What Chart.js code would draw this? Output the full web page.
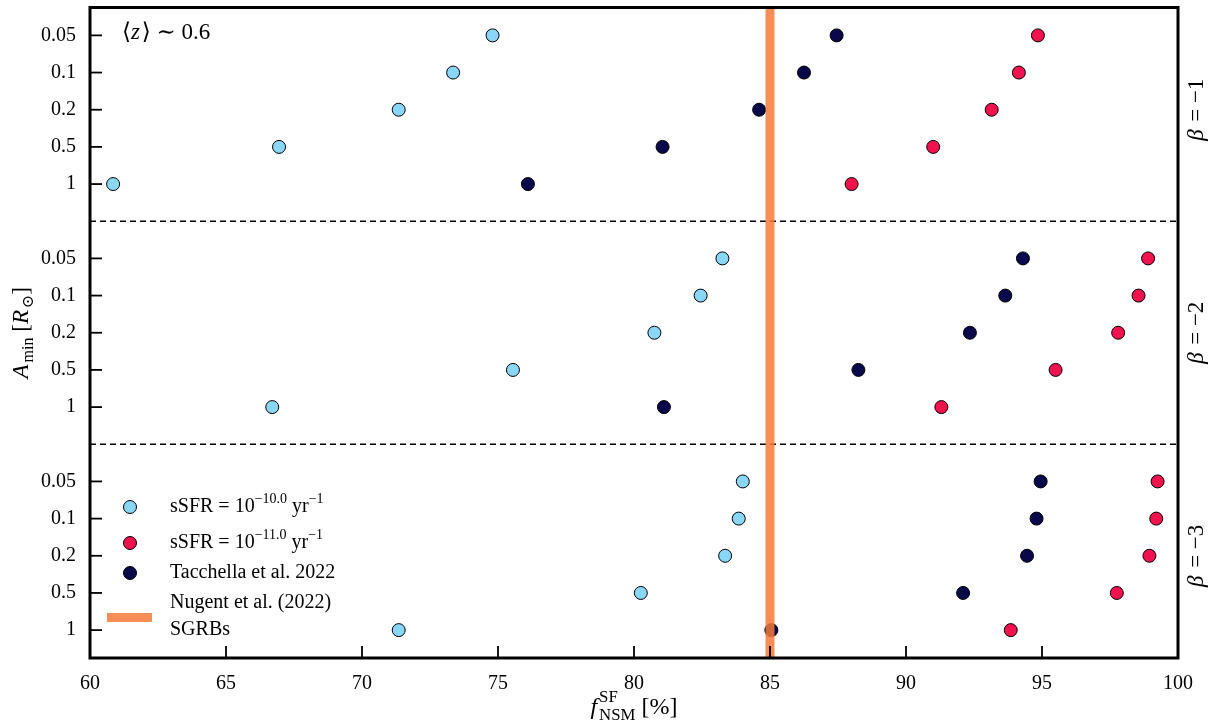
<!DOCTYPE html>
<html>
<head>
<meta charset="utf-8">
<script src="https://cdn.jsdelivr.net/npm/chart.js@4.4.0/dist/chart.umd.min.js"></script>
<style>
  html, body { margin: 0; padding: 0; background: #fff; }
  #wrap { width: 1218px; height: 726px; }
</style>
</head>
<body>
<div id="wrap"><canvas id="chart"></canvas></div>
<script>
// separation rows inside each panel, top to bottom
const sizeLabels = ['0.05', '0.1', '0.2', '0.5', '1'];
const betaLabels = ['−1', '−2', '−3'];
// f_NSM^SF values [%], one array per beta panel, rows in sizeLabels order
const ssfr10 = [
  [74.8, 73.35, 71.35, 66.95, 60.85],
  [83.25, 82.45, 80.75, 75.55, 66.7],
  [84.0, 83.85, 83.35, 80.25, 71.35]
];
const ssfr11 = [
  [94.85, 94.15, 93.15, 91.0, 88.0],
  [98.9, 98.55, 97.8, 95.5, 91.3],
  [99.25, 99.2, 98.95, 97.75, 93.85]
];
const tacchella = [
  [87.45, 86.25, 84.6, 81.05, 76.1],
  [94.3, 93.65, 92.35, 88.25, 81.1],
  [94.95, 94.8, 94.45, 92.1, 85.05]
];
const nugentValue = 85;
const xTicks = [60, 65, 70, 75, 80, 85, 90, 95, 100];

const SERIF = '"Liberation Serif", "DejaVu Serif", serif';
const colCyan = '#8ad6f6';
const colRed = '#f2124e';
const colNavy = '#08084a';
const colOrange = 'rgba(246, 122, 58, 0.85)';

// each panel gets 5 rows plus one empty row for the separator
const rowPos = (p, i) => p * 6 + i;
const toPoints = arr => arr.flatMap((row, p) => row.map((x, i) => ({ x: x, y: rowPos(p, i) })));
const rowTicks = [0, 1, 2].flatMap(p => sizeLabels.map((_, i) => rowPos(p, i)));

function drawRich(ctx, parts, x, y, size, align) {
  // parts: {t, it, sup, sub} or {stack:[sup, sub]}
  const widths = parts.map(p => {
    if (p.stack) {
      ctx.font = size * 0.7 + 'px ' + SERIF;
      return Math.max(ctx.measureText(p.stack[0]).width, ctx.measureText(p.stack[1]).width);
    }
    const s = (p.sup || p.sub) ? size * 0.7 : size;
    ctx.font = (p.it ? 'italic ' : '') + s + 'px ' + SERIF;
    return ctx.measureText(p.t).width + (p.it ? size * 0.08 : 0);
  });
  const total = widths.reduce((a, b) => a + b, 0);
  let cx = align === 'center' ? x - total / 2 : x;
  ctx.textBaseline = 'middle';
  ctx.textAlign = 'left';
  parts.forEach((p, k) => {
    if (p.stack) {
      ctx.font = size * 0.7 + 'px ' + SERIF;
      ctx.fillText(p.stack[0], cx, y - size * 0.42);
      ctx.fillText(p.stack[1], cx, y + size * 0.3);
    } else {
      const s = (p.sup || p.sub) ? size * 0.7 : size;
      ctx.font = (p.it ? 'italic ' : '') + s + 'px ' + SERIF;
      const dy = p.sup ? -size * 0.38 : (p.sub ? size * 0.28 : 0);
      ctx.fillText(p.t, cx, y + dy);
    }
    cx += widths[k];
  });
}

const decorPlugin = {
  id: 'decor',
  beforeDatasetsDraw(chart) {
    const { ctx, chartArea: a, scales } = chart;
    ctx.save();
    ctx.strokeStyle = '#000';
    ctx.lineWidth = 1.5;
    ctx.setLineDash([6, 4]);
    [5, 11].forEach(v => {
      const y = scales.y.getPixelForValue(v);
      ctx.beginPath();
      ctx.moveTo(a.left, y);
      ctx.lineTo(a.right, y);
      ctx.stroke();
    });
    ctx.restore();
  },
  afterDraw(chart) {
    const { ctx, chartArea: a, scales } = chart;
    ctx.save();
    ctx.fillStyle = '#000';
    ctx.strokeStyle = '#000';
    // inward ticks
    ctx.lineWidth = 1.8;
    scales.x.ticks.forEach(t => {
      const x = scales.x.getPixelForValue(t.value);
      ctx.beginPath();
      ctx.moveTo(x, a.bottom);
      ctx.lineTo(x, a.bottom - 12);
      ctx.stroke();
    });
    scales.y.ticks.forEach(t => {
      const y = scales.y.getPixelForValue(t.value);
      ctx.beginPath();
      ctx.moveTo(a.left, y);
      ctx.lineTo(a.left + 12, y);
      ctx.stroke();
    });
    // frame
    ctx.lineWidth = 3;
    ctx.strokeRect(a.left, a.top, a.right - a.left, a.bottom - a.top);

    // panel labels on the right
    betaLabels.forEach((b, p) => {
      const yc = scales.y.getPixelForValue(rowPos(p, 2));
      ctx.save();
      ctx.translate(a.right + 19, yc);
      ctx.rotate(-Math.PI / 2);
      drawRich(ctx, [{ t: 'β', it: true }, { t: ' = ' + b }], 0, 0, 23, 'center');
      ctx.restore();
    });

    // redshift note
    drawRich(ctx, [{ t: '⟨' }, { t: 'z', it: true }, { t: '⟩ ∼ 0.6' }], a.left + 32, a.top + 25, 23, 'left');

    // axis titles
    ctx.save();
    ctx.translate(22, (a.top + a.bottom) / 2);
    ctx.rotate(-Math.PI / 2);
    drawRich(ctx, [{ t: 'A', it: true }, { t: 'min', sub: true }, { t: ' [' }, { t: 'R', it: true }, { t: '⊙', sub: true }, { t: ']' }], 0, 0, 23, 'center');
    ctx.restore();
    drawRich(ctx, [{ t: 'f', it: true }, { stack: ['SF', 'NSM'] }, { t: ' [%]' }], (a.left + a.right) / 2, 708, 24, 'center');

    // legend
    const lx = a.left + 40, tx = a.left + 80;
    const entries = [
      { c: colCyan, y: 507, txt: [{ t: 'sSFR = 10' }, { t: '−10.0', sup: true }, { t: ' yr' }, { t: '−1', sup: true }] },
      { c: colRed, y: 543, txt: [{ t: 'sSFR = 10' }, { t: '−11.0', sup: true }, { t: ' yr' }, { t: '−1', sup: true }] },
      { c: colNavy, y: 573, txt: [{ t: 'Tacchella et al. 2022' }] }
    ];
    entries.forEach(e => {
      ctx.beginPath();
      ctx.arc(lx, e.y, 6.5, 0, Math.PI * 2);
      ctx.fillStyle = e.c;
      ctx.fill();
      ctx.lineWidth = 1;
      ctx.strokeStyle = '#000';
      ctx.stroke();
      ctx.fillStyle = '#000';
      drawRich(ctx, e.txt, tx, e.y, 20, 'left');
    });
    ctx.fillStyle = colOrange;
    ctx.fillRect(a.left + 17, 613, 45, 9);
    ctx.fillStyle = '#000';
    drawRich(ctx, [{ t: 'Nugent et al. (2022)' }], tx, 603, 20, 'left');
    drawRich(ctx, [{ t: 'SGRBs' }], tx, 630, 20, 'left');
    ctx.restore();
  }
};

const pointStyle = c => ({
  type: 'scatter',
  backgroundColor: c,
  borderColor: '#000',
  borderWidth: 1,
  pointRadius: 6.5,
  pointHoverRadius: 6.5
});

new Chart(document.getElementById('chart'), {
  type: 'scatter',
  data: {
    datasets: [
      {
        type: 'line',
        label: 'Nugent et al. (2022) SGRBs',
        data: [{ x: nugentValue, y: -0.75 }, { x: nugentValue, y: 16.75 }],
        borderColor: colOrange,
        borderWidth: 9,
        pointRadius: 0,
        order: -1
      },
      { ...pointStyle(colCyan), label: 'sSFR = 10^-10.0 yr^-1', data: toPoints(ssfr10) },
      { ...pointStyle(colRed), label: 'sSFR = 10^-11.0 yr^-1', data: toPoints(ssfr11) },
      { ...pointStyle(colNavy), label: 'Tacchella et al. 2022', data: toPoints(tacchella) }
    ]
  },
  options: {
    responsive: true,
    maintainAspectRatio: false,
    animation: false,
    layout: { padding: { top: 5, right: 40, left: 0, bottom: 0 } },
    plugins: { legend: { display: false }, tooltip: { enabled: false } },
    scales: {
      x: {
        type: 'linear',
        min: 60,
        max: 100,
        afterBuildTicks: s => { s.ticks = xTicks.map(v => ({ value: v })); },
        afterFit: s => { s.height = 68; s.paddingLeft = 0; s.paddingRight = 0; },
        grid: { display: false },
        border: { display: false },
        ticks: { color: '#000', font: { family: SERIF, size: 20 }, padding: 6, maxRotation: 0 }
      },
      y: {
        type: 'linear',
        reverse: true,
        min: -0.75,
        max: 16.75,
        afterBuildTicks: s => { s.ticks = rowTicks.map(v => ({ value: v })); },
        afterFit: s => { s.width = 90; s.paddingTop = 0; s.paddingBottom = 0; },
        grid: { display: false },
        border: { display: false },
        ticks: {
          color: '#000',
          font: { family: SERIF, size: 20 },
          padding: 6,
          callback: v => sizeLabels[((v % 6) + 6) % 6]
        }
      }
    }
  },
  plugins: [decorPlugin]
});
</script>
</body>
</html>
